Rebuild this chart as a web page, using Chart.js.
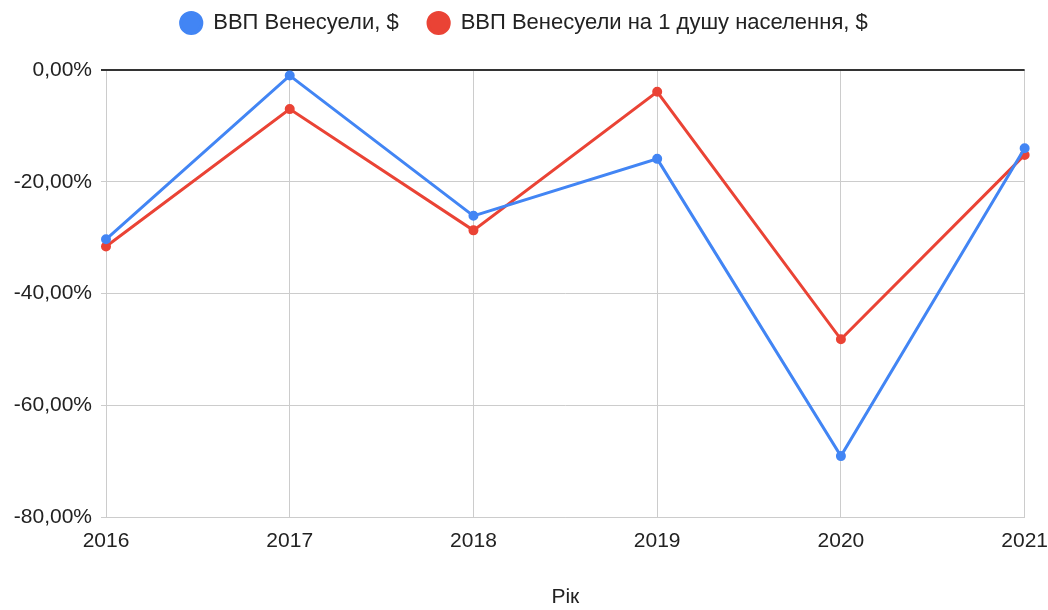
<!DOCTYPE html>
<html>
<head>
<meta charset="utf-8">
<script src="https://cdn.jsdelivr.net/npm/chart.js@4.4.1/dist/chart.umd.min.js"></script>
<style>
  body { margin: 0; background: #fff; }
  #wrap { width: 1048px; height: 610px; position: relative; }
</style>
</head>
<body>
<div id="wrap"><canvas id="chart"></canvas></div>
<script>
let years = ["2016", "2017", "2018", "2019", "2020", "2021"];
let gdpChange = [-30.3, -1.0, -26.1, -15.9, -69.1, -14.0];
let gdpPerCapitaChange = [-31.6, -7.0, -28.7, -3.9, -48.2, -15.2];
let seriesNames = ["ВВП Венесуели, $", "ВВП Венесуели на 1 душу населення, $"];
let seriesColors = ["#4285f4", "#ea4335"];

Chart.defaults.font.family = "'Liberation Sans', Arial, sans-serif";
Chart.defaults.color = "#222";

let padTop = -17;

// force legend block height so the plot starts at the same place
let legendHeight = {
    id: "legendHeight",
    afterInit(chart) {
        let fit = chart.legend.fit;
        chart.legend.fit = function () {
            fit.call(this);
            this.height = 70 - padTop;
        };
    }
};

function pct(v) {
    return v.toFixed(2).replace(".", ",") + "%";
}

new Chart("chart", {
    type: "line",
    data: {
        labels: years,
        datasets: [{
            label: seriesNames[0],
            data: gdpChange,
            borderColor: seriesColors[0],
            backgroundColor: seriesColors[0],
            pointRadius: 3.5,
            borderWidth: 3,
            tension: 0
        }, {
            label: seriesNames[1],
            data: gdpPerCapitaChange,
            borderColor: seriesColors[1],
            backgroundColor: seriesColors[1],
            pointRadius: 3.5,
            borderWidth: 3,
            tension: 0
        }]
    },
    options: {
        responsive: true,
        maintainAspectRatio: false,
        animation: false,
        layout: { padding: { left: 0, right: 0, top: padTop, bottom: 0 } },
        plugins: {
            legend: {
                position: "top",
                labels: {
                    usePointStyle: true,
                    pointStyle: "circle",
                    boxHeight: 15,
                    boxWidth: 22,
                    padding: 29,
                    font: { size: 22 }
                }
            },
            tooltip: { enabled: false }
        },
        scales: {
            x: {
                offset: false,
                grid: { color: "#cccccc", drawTicks: true, tickLength: 12, tickColor: "rgba(0,0,0,0)" },
                border: { color: "#cccccc" },
                ticks: { padding: 0, font: { size: 21 }, color: "#222", maxRotation: 0 },
                title: { display: true, text: "Рік", font: { size: 21 }, color: "#222", padding: { top: 0, bottom: 0 } },
                afterFit(scale) { scale.height = 93; }
            },
            y: {
                min: -80,
                max: 0,
                grid: {
                    color: ctx => ctx.tick && ctx.tick.value === 0 ? "#333333" : "#cccccc",
                    lineWidth: ctx => ctx.tick && ctx.tick.value === 0 ? 2 : 1,
                    tickLength: 5
                },
                border: { display: false },
                ticks: {
                    stepSize: 20,
                    padding: 9,
                    font: { size: 21 },
                    color: "#222",
                    callback: v => pct(v)
                },
                afterFit(scale) { scale.width = 106; }
            }
        }
    },
    plugins: [legendHeight]
});
</script>
</body>
</html>
